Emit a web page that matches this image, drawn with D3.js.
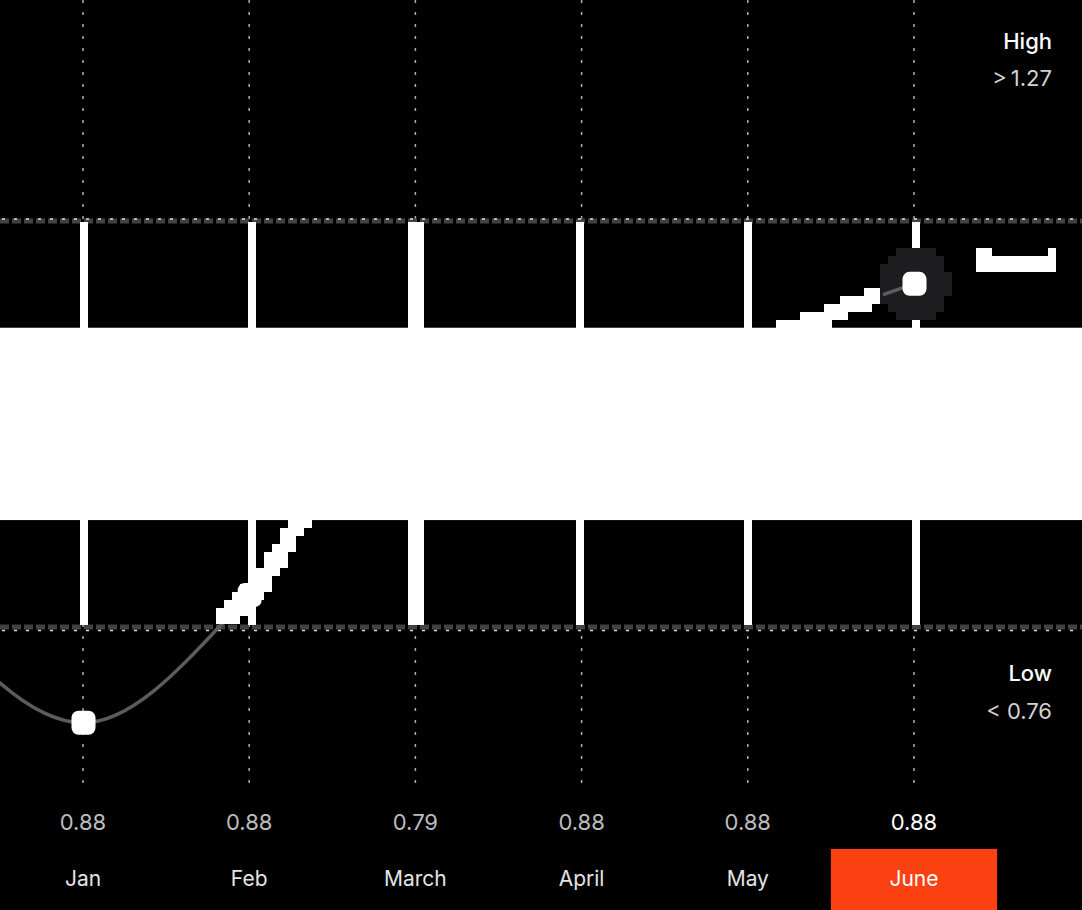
<!DOCTYPE html>
<html><head><meta charset="utf-8">
<script src="https://cdn.jsdelivr.net/npm/d3@7"></script>
<style>html,body{margin:0;padding:0;background:#000;overflow:hidden;} svg{display:block;font-family:Inter,"Noto Sans",sans-serif;}</style>
</head><body><svg id="chart" width="1082" height="910"></svg>
<script>
// ---- data ----
const months = ["Jan", "Feb", "March", "April", "May", "June"];
const valueLabels = ["0.88", "0.88", "0.79", "0.88", "0.88", "0.88"];
const trendValues = [0.64, 0.80, 1.07, 1.00, 1.11, 1.19];
const leadValue = 0.80;            // value of the month before Jan (off chart)
const highThreshold = 1.27;
const lowThreshold = 0.76;
const bandRange = [0.894, 1.135];
const activeIndex = 5;
const highLabel = "High", lowLabel = "Low";

// ---- layout ----
const W = 1082, H = 910;
const svg = d3.select("#chart");
svg.append("rect").attr("width", W).attr("height", H).attr("fill", "#000");

const x = d3.scaleLinear().domain([0, months.length - 1]).range([83, 914]);
const step = x(1) - x(0);
const y = d3.scaleLinear().domain([lowThreshold, highThreshold]).range([627, 220]);
const GRID = 8;
const snap = v => Math.round(v / GRID) * GRID;

// vertical dotted guides
svg.append("g").selectAll("line").data(months).join("line")
  .attr("x1", (d, i) => x(i)).attr("x2", (d, i) => x(i))
  .attr("y1", 0).attr("y2", 792)
  .attr("stroke", "#b0b0b0").attr("stroke-width", 1.5)
  .attr("stroke-dasharray", "3,9");

// threshold lines
[highThreshold, lowThreshold].forEach((t, k) => {
  const yy = y(t);
  svg.append("line").attr("x1", 0).attr("x2", W).attr("y1", yy + (k ? 0 : 1)).attr("y2", yy + (k ? 0 : 1))
    .attr("stroke", "#424242").attr("stroke-width", 5).attr("stroke-dasharray", "9,3");
  svg.append("line").attr("x1", 2).attr("x2", W).attr("y1", yy + (k ? 3.5 : -1)).attr("y2", yy + (k ? 3.5 : -1))
    .attr("stroke", "#e0e0e0").attr("stroke-width", 1.5).attr("stroke-dasharray", "3,9");
});

// white vertical bars between thresholds
const barWidths = [8, 8, 16, 8, 8, 8];
svg.append("g").selectAll("rect").data(months).join("rect")
  .attr("x", (d, i) => snap(x(i) - barWidths[i] / 2))
  .attr("width", (d, i) => barWidths[i])
  .attr("y", y(highThreshold) + 2)
  .attr("height", y(lowThreshold) - y(highThreshold) - 4)
  .attr("fill", "#fff");

// trend curve
const pts = [{ i: -1, v: leadValue }].concat(trendValues.map((v, i) => ({ i, v })));
const line = d3.line().x(d => x(d.i)).y(d => y(d.v)).curve(d3.curveMonotoneX);
const pathD = line(pts);
const grayPath = svg.append("path").attr("d", pathD)
  .attr("fill", "none").attr("stroke", "#5c5c5c").attr("stroke-width", 3.5);

// pixelated white version between thresholds
const node = grayPath.node();
const total = node.getTotalLength();
const cells = new Map();
for (let l = 0; l <= total; l += 1) {
  const p = node.getPointAtLength(l);
  if (p.y < y(highThreshold) || p.y > y(lowThreshold)) continue;
  for (let dx = -3; dx <= 3; dx += 3) for (let dy = -3; dy <= 3; dy += 3) {
    const cx = Math.floor((p.x + dx) / GRID), cy = Math.floor((p.y + dy) / GRID);
    if (cy * GRID + GRID > y(lowThreshold) + 1) continue;
    cells.set(cx + "," + cy, [cx, cy]);
  }
}
svg.append("g").selectAll("rect").data([...cells.values()]).join("rect")
  .attr("x", d => d[0] * GRID).attr("y", d => d[1] * GRID)
  .attr("width", GRID).attr("height", GRID).attr("fill", "#fff")
  .attr("shape-rendering", "crispEdges");

// markers
const markerSize = 24;
svg.append("g").selectAll("rect").data(trendValues).join("rect")
  .attr("x", (d, i) => x(i) - markerSize / 2 + 0.5)
  .attr("y", d => y(d) - markerSize / 2)
  .attr("width", markerSize).attr("height", markerSize)
  .attr("rx", 7).attr("fill", "#fff");

// band
svg.append("rect").attr("x", 0).attr("width", W)
  .attr("y", y(bandRange[1])).attr("height", y(bandRange[0]) - y(bandRange[1]))
  .attr("fill", "#fff");

// active point halo (pixelated)
const ax = x(activeIndex), ay = y(trendValues[activeIndex]);
const haloR = 37;
const haloCells = [];
for (let cx = Math.floor((ax - haloR) / GRID); cx <= Math.floor((ax + haloR) / GRID); cx++)
  for (let cy = Math.floor((ay - haloR) / GRID); cy <= Math.floor((ay + haloR) / GRID); cy++) {
    const mx = cx * GRID + GRID / 2, my = cy * GRID + GRID / 2;
    if ((mx - ax) ** 2 + (my - ay) ** 2 <= haloR * haloR) haloCells.push([cx, cy]);
  }
svg.append("g").selectAll("rect").data(haloCells).join("rect")
  .attr("x", d => d[0] * GRID).attr("y", d => d[1] * GRID)
  .attr("width", GRID).attr("height", GRID).attr("fill", "#1d1d20")
  .attr("shape-rendering", "crispEdges");
svg.append("clipPath").attr("id", "haloClip").append("circle")
  .attr("cx", ax).attr("cy", ay).attr("r", haloR - 4);
svg.append("path").attr("d", pathD).attr("clip-path", "url(#haloClip)")
  .attr("fill", "none").attr("stroke", "#5c5c5c").attr("stroke-width", 3.5);
svg.append("rect")
  .attr("x", ax - markerSize / 2 + 0.5).attr("y", ay - markerSize / 2)
  .attr("width", markerSize).attr("height", markerSize)
  .attr("rx", 7).attr("fill", "#fff");

// small glitch bracket next to the active point
const bx = snap(ax + 62), by = snap(ay - 36);
svg.append("path")
  .attr("d", `M${bx},${by}h16v8h56v-8h8v24h-80Z`)
  .attr("fill", "#fff").attr("shape-rendering", "crispEdges");

// threshold labels
const rx = 1052;
svg.append("text").attr("x", rx).attr("y", 49).attr("text-anchor", "end")
  .attr("fill", "#fff").attr("font-size", 22).attr("font-weight", 500).text(highLabel);
svg.append("text").attr("x", rx).attr("y", 86).attr("text-anchor", "end")
  .attr("fill", "#d2d2d2").attr("font-size", 22).text(">" + "\u2009" + highThreshold.toFixed(2));
svg.append("text").attr("x", rx).attr("y", 681).attr("text-anchor", "end")
  .attr("fill", "#fff").attr("font-size", 22).attr("font-weight", 500).text(lowLabel);
svg.append("text").attr("x", rx).attr("y", 719).attr("text-anchor", "end")
  .attr("fill", "#d2d2d2").attr("font-size", 22).text("< " + lowThreshold.toFixed(2));

// value labels
svg.append("g").selectAll("text").data(valueLabels).join("text")
  .attr("x", (d, i) => x(i)).attr("y", 830).attr("text-anchor", "middle")
  .attr("font-size", 22)
  .attr("fill", (d, i) => i === activeIndex ? "#fff" : "#bdbdbd")
  .text(d => d);

// month axis
svg.append("rect").attr("x", x(activeIndex) - step / 2).attr("y", 849)
  .attr("width", step).attr("height", H - 849).attr("fill", "#fb4012");
svg.append("g").selectAll("text").data(months).join("text")
  .attr("x", (d, i) => x(i)).attr("y", 886).attr("text-anchor", "middle")
  .attr("font-size", 21).attr("fill", (d, i) => i === activeIndex ? "#fff" : "#e4e4e4")
  .text(d => d);
</script>
</body></html>
